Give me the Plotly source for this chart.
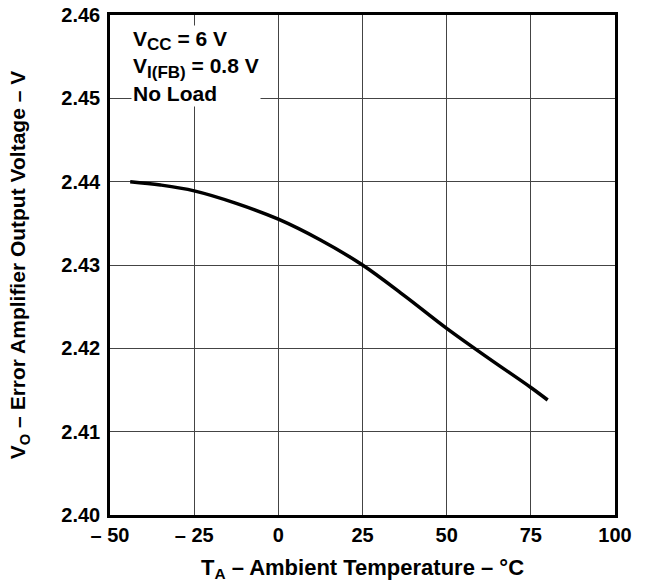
import plotly.graph_objects as go

temps = [-44, -35, -25, -12.5, 0, 12.5, 25, 37.5, 50, 62.5, 75, 80]
volts = [2.4400, 2.4396, 2.4389, 2.4374, 2.4355, 2.4330, 2.4300, 2.4263, 2.4224, 2.4188, 2.4153, 2.4138]

x_ticks = [-50, -25, 0, 25, 50, 75, 100]
x_tick_text = ["– 50", "– 25", "0", "25", "50", "75", "100"]
y_ticks = [2.40, 2.41, 2.42, 2.43, 2.44, 2.45, 2.46]
y_tick_text = ["2.40", "2.41", "2.42", "2.43", "2.44", "2.45", "2.46"]

FONT = "Liberation Sans, Arial, sans-serif"

fig = go.Figure()
fig.add_trace(go.Scatter(x=temps, y=volts, mode="lines",
                         line=dict(color="black", width=3.5, shape="spline", smoothing=1.0),
                         showlegend=False, hoverinfo="skip"))

fig.update_layout(
    width=645, height=584,
    margin=dict(l=110, r=30, t=15, b=69, autoexpand=False),
    paper_bgcolor="white", plot_bgcolor="white",
    font=dict(family=FONT, color="black", size=20),
    xaxis=dict(range=[-50, 100], tickvals=x_ticks, ticktext=x_tick_text,
               showgrid=True, gridcolor="#444444", gridwidth=1,
               showline=True, linecolor="black", linewidth=2.5, mirror=True,
               ticks="", zeroline=False, automargin=False, ticklabeloverflow="allow",
               tickfont=dict(family=FONT, size=20, color="black", weight="bold"),
               title=dict(text="<b>T<sub>A</sub> – Ambient Temperature – °C</b>",
                          font=dict(family=FONT, size=22), standoff=15)),
    yaxis=dict(range=[2.40, 2.46], tickvals=y_ticks, ticktext=y_tick_text,
               showgrid=True, gridcolor="#444444", gridwidth=1,
               showline=True, linecolor="black", linewidth=2.5, mirror=True,
               ticks="", zeroline=False, automargin=False, ticklabeloverflow="allow",
               ticklabelstandoff=3,
               tickfont=dict(family=FONT, size=20, color="black", weight="bold"),
               title=dict(text="<b>V<sub>O</sub> – Error Amplifier Output Voltage – V</b>",
                          font=dict(family=FONT, size=21), standoff=30)),
)

fig.add_annotation(
    x=0, y=1, xref="paper", yref="paper", xanchor="left", yanchor="top",
    xshift=21, yshift=-10,
    text=("<b>V<sub><span style='font-size:17px'>CC</span></sub> = 6 V<br>"
          "V<sub><span style='font-size:17px'>I(FB)</span></sub> = 0.8 V<br>No Load</b>"),
    showarrow=False, align="left", bgcolor="white",
    font=dict(family=FONT, size=21, color="black"),
)

# remove the browser's default 8px page margin so the figure fills the window
fig.write_html("out.html", config={"displayModeBar": False},
               post_script="document.body.style.margin='0';document.body.style.overflow='hidden';")
